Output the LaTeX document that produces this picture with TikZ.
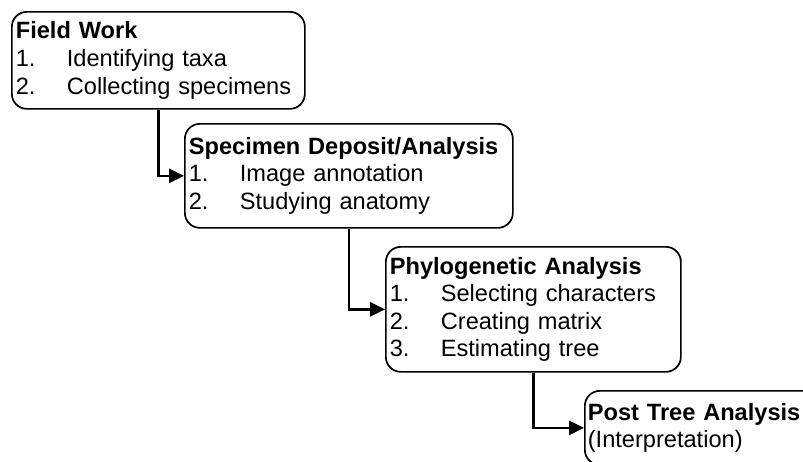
\documentclass[tikz,border=0pt]{standalone}
\usepackage{fontspec}
\setmainfont{Liberation Sans}
\usetikzlibrary{arrows.meta}
\newcommand\numitem[1]{\makebox[51pt][l]{#1}}
\begin{document}
\begin{tikzpicture}[x=1pt,y=-1pt,
  box/.style={draw, line width=1.7pt, rounded corners=15pt, anchor=north west,
    inner xsep=4pt, inner ysep=0pt, align=left,
    font=\fontsize{23.6}{27.6}\selectfont},
  conn/.style={line width=2.7pt, -{Triangle[length=15pt,width=14pt]}}]
\useasboundingbox (0,0) rectangle (803,461);
\clip (0,0) rectangle (803,461);
\node[box, text width=285pt, minimum height=97pt] (b1) at (11,11)
  {\textbf{Field Work}\\\numitem{1.}Identifying taxa\\\numitem{2.}Collecting specimens};
\node[box, text width=320pt, minimum height=104pt] (b2) at (184,123)
  {\textbf{Specimen Deposit/Analysis}\\\numitem{1.}Image annotation\\\numitem{2.}Studying anatomy};
\node[box, text width=287pt, minimum height=125pt] (b3) at (385,246)
  {\textbf{Phylogenetic Analysis}\\\numitem{1.}Selecting characters\\\numitem{2.}Creating matrix\\\numitem{3.}Estimating tree};
\node[box, inner xsep=3pt, text width=244pt, minimum height=74pt] (b4) at (584,390)
  {\textbf{Post Tree Analysis}\\(Interpretation)};
\draw[conn] (b1.south) |- (b2.west);
\draw[conn] (b2.south) |- (b3.west);
\draw[conn] (b3.south) |- (b4.west);
\end{tikzpicture}
\end{document}
